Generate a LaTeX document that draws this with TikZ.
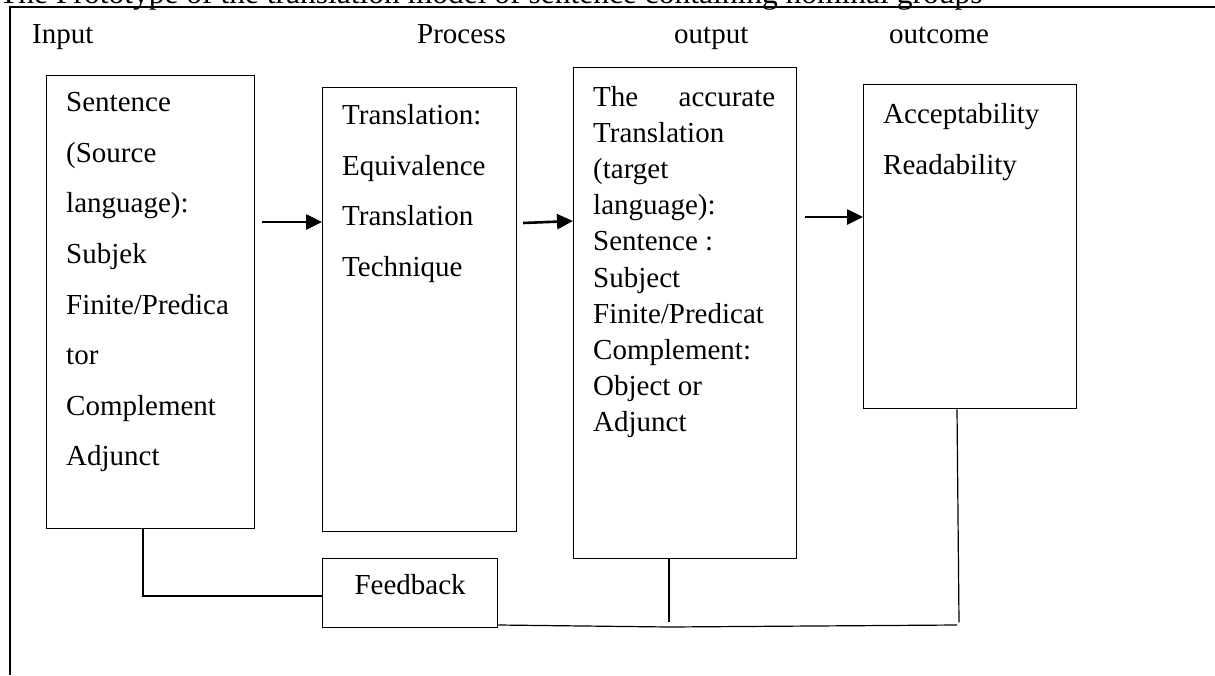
\documentclass[tikz,border=0pt]{standalone}
\usepackage{fontspec}
\setmainfont{Liberation Serif}
\usetikzlibrary{arrows.meta}
\begin{document}
\begin{tikzpicture}[x=1pt,y=-1pt,
 box/.style={draw,line width=1.3pt,inner sep=0pt,anchor=north west},
 txt/.style={inner sep=0pt,anchor=north west,align=left},
 head/.style={inner sep=0pt,anchor=base west,font=\fontsize{29}{35}\selectfont},
 arr/.style={line width=2.6pt,-{Triangle[length=16pt,width=15pt]}},
 link/.style={line width=1.2pt}]
 \useasboundingbox (0,0) rectangle (1215,675);
 \node[inner sep=0pt,anchor=base west,font=\fontsize{31.5}{36}\selectfont] (title) at (-1,3) {The Prototype of the translation model of sentence containing nominal groups};
 \draw[link] (10,675) -- (10,7) -- (1215,7);
 \node[head] (hinput) at (32,43) {Input};
 \node[head] (hprocess) at (417,43) {Process};
 \node[head] (houtput) at (674,43) {output};
 \node[head] (houtcome) at (889,43) {outcome};
 \node[box,minimum width=208pt,minimum height=453pt] (input) at (46,75) {};
 \node[txt,font=\fontsize{29}{50.6}\selectfont] (inputtext) at (66,92.2) {Sentence\\(Source\\language):\\Subjek\\Finite/Predica\\tor\\Complement\\Adjunct};
 \node[box,minimum width=194pt,minimum height=444pt] (process) at (322,87) {};
 \node[txt,font=\fontsize{29}{50.6}\selectfont] (processtext) at (342,104.2) {Translation:\\Equivalence\\Translation\\Technique};
 \node[box,minimum width=223pt,minimum height=491pt] (output) at (573,67) {};
 \node[txt,font=\fontsize{29}{36.2}\selectfont] (outputtext) at (593,85.7) {\makebox[182pt][s]{The accurate}\\Translation\\(target\\language):\\Sentence :\\Subject\\Finite/Predicat\\Complement:\\Object or\\Adjunct};
 \node[box,minimum width=213pt,minimum height=324pt] (outcome) at (863,84) {};
 \node[txt,font=\fontsize{29}{51}\selectfont] (outcometext) at (883,102.9) {Acceptability\\Readability};
 \node[box,minimum width=175pt,minimum height=69pt,font=\fontsize{29}{35}\selectfont,text height=20pt,text depth=17pt] (feedback) at (322,558) {Feedback};
 \coordinate (a1) at (262,222);
 \draw[arr] (a1) -- (a1 -| process.west);
 \coordinate (a2) at (523,223);
 \draw[arr] (a2) -- (output.west |- 0,221);
 \coordinate (a3) at (805,217);
 \draw[arr] (a3) -- (a3 -| outcome.west);
 \coordinate (f1) at (143,596);
 \draw[link] (f1 |- input.south) -- (f1) -- (f1 -| feedback.west);
 \coordinate (j1) at (669,627);
 \coordinate (j2) at (957,625);
 \draw[link] (feedback.south east |- 0,625) -- (j1) -- (j2);
 \draw[link] (j1 |- output.south) -- ++(0,63);
 \draw[link] (j2 |- outcome.south) -- ++(2,213);
\end{tikzpicture}
\end{document}
